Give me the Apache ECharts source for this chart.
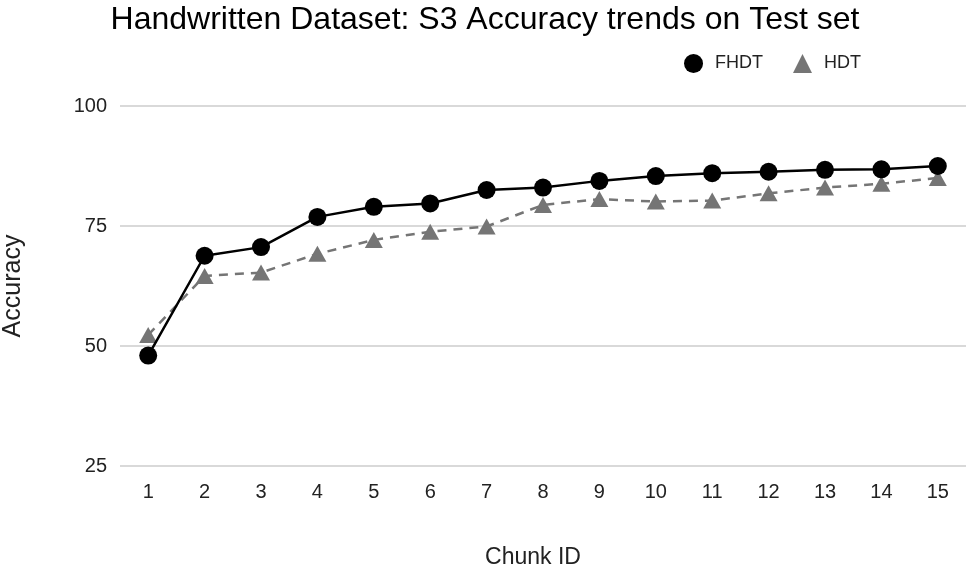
<!DOCTYPE html>
<html>
<head>
<meta charset="utf-8">
<script src="https://cdn.jsdelivr.net/npm/echarts@6/dist/echarts.min.js"></script>
<style>html,body{margin:0;padding:0;background:#fff}#c{width:970px;height:566px}</style>
</head>
<body>
<div id="c"></div>
<script>
const categories = ['1','2','3','4','5','6','7','8','9','10','11','12','13','14','15'];
const fhdt = [48.0, 68.8, 70.6, 76.9, 79.0, 79.7, 82.5, 83.0, 84.4, 85.4, 86.0, 86.3, 86.7, 86.8, 87.5];
const hdt = [52.3, 64.6, 65.3, 69.2, 72.1, 73.8, 74.9, 79.4, 80.6, 80.1, 80.3, 81.8, 83.0, 83.8, 85.0];
const yTicks = [25, 50, 75, 100];

const font = 'Liberation Sans, Arial, sans-serif';
const chart = echarts.init(document.getElementById('c'));
chart.setOption({
  animation: false,
  title: {
    text: 'Handwritten Dataset: S3 Accuracy trends on Test set',
    left: 'center', top: -1,
    textStyle: {fontFamily: font, fontSize: 32, fontWeight: 'normal', color: '#000'}
  },
  legend: {
    right: 104, top: 49,
    itemGap: 30, itemWidth: 19, itemHeight: 19,
    textStyle: {fontFamily: font, fontSize: 18, color: '#222', padding: [0, 0, 0, 7]},
    data: [
      {name: 'FHDT', icon: 'circle'},
      {name: 'HDT', icon: 'triangle', itemStyle: {color: '#757575'}}
    ]
  },
  grid: {left: 120, right: 4, top: 106, bottom: 100, containLabel: false, outerBoundsMode: 'none'},
  xAxis: {
    type: 'category', data: categories, boundaryGap: true,
    name: 'Chunk ID', nameLocation: 'middle', nameGap: 80,
    nameTextStyle: {fontFamily: font, fontSize: 23, color: '#222', padding: [0, 20, 0, 0]},
    axisLine: {show: false}, axisTick: {show: false},
    axisLabel: {fontFamily: font, fontSize: 20, color: '#222', margin: 16}
  },
  yAxis: {
    type: 'value', min: yTicks[0], max: yTicks[yTicks.length-1], interval: 25,
    name: 'Accuracy', nameLocation: 'middle', nameGap: 94,
    nameTextStyle: {fontFamily: font, fontSize: 25, color: '#222'},
    axisLine: {show: false}, axisTick: {show: false},
    axisLabel: {fontFamily: font, fontSize: 20, color: '#222', margin: 13},
    splitLine: {lineStyle: {color: '#cccccc', width: 1.5}}
  },
  series: [
    {
      name: 'FHDT', type: 'line', data: fhdt,
      symbol: 'circle', symbolSize: 18,
      lineStyle: {color: '#000', width: 2.5},
      itemStyle: {color: '#000'}, z: 3
    },
    {
      name: 'HDT', type: 'line', data: hdt,
      symbol: 'triangle', symbolSize: [18, 16],
      lineStyle: {color: '#757575', width: 2.5, type: [9, 7]},
      itemStyle: {color: '#757575'}, z: 2
    }
  ]
});
</script>
</body>
</html>
